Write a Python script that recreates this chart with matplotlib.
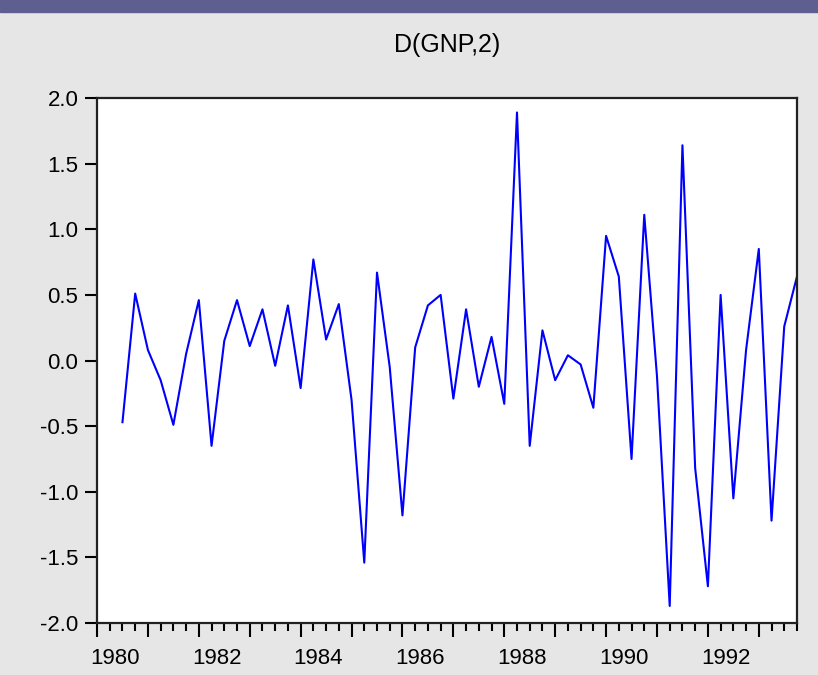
import matplotlib
matplotlib.use("Agg")
import matplotlib.pyplot as plt
import numpy as np

# Data: second difference of GNP, quarterly 1980Q3 - 1993Q4
start_year, start_q = 1980, 3
values = [-0.47, 0.51, 0.08, -0.15, -0.49, 0.05, 0.46, -0.65, 0.15, 0.46,
          0.11, 0.39, -0.04, 0.42, -0.21, 0.77, 0.16, 0.43, -0.30, -1.54,
          0.67, -0.05, -1.18, 0.10, 0.42, 0.50, -0.29, 0.39, -0.20, 0.18,
          -0.33, 1.89, -0.65, 0.23, -0.15, 0.04, -0.03, -0.36, 0.95, 0.64,
          -0.75, 1.11, -0.12, -1.87, 1.64, -0.82, -1.72, 0.50, -1.05, 0.08,
          0.85, -1.22, 0.26, 0.64]
year_labels = [1980, 1982, 1984, 1986, 1988, 1990, 1992]
y_ticks = [-2.0, -1.5, -1.0, -0.5, 0.0, 0.5, 1.0, 1.5, 2.0]

# quarter positions in fractional years (Q1 = .00, Q2 = .25, ...)
x = start_year + (start_q - 1) / 4 + np.arange(len(values)) / 4

plt.rcParams['font.family'] = ['Liberation Sans', 'DejaVu Sans']

fig = plt.figure(figsize=(8.18, 6.75), dpi=100, facecolor='#e6e6e6')
# purple window strip on top
fig.patches.append(plt.Rectangle((0, 0.982), 1, 0.018, transform=fig.transFigure,
                                 color='#5e5e90', zorder=0))

ax = fig.add_axes([0.1186, 0.077, 0.8557, 0.7778])
ax.set_facecolor('white')
ax.plot(x, values, color='#0000ff', lw=1.5)

ax.set_xlim(1980, 1993.75)
ax.set_ylim(-2.0, 2.0)

# x ticks: long at each year, short each quarter, labels every 2 years
ax.set_xticks(np.arange(1980, 1994), labels=[''] * 14)
ax.set_xticks(np.arange(1980, 1993.76, 0.25), minor=True)
ax.tick_params(axis='x', which='major', direction='out', length=10, width=1.5)
ax.tick_params(axis='x', which='minor', direction='out', length=6, width=1.5)
for yr in year_labels:
    ax.text(yr + 0.35, -0.068, str(yr), transform=ax.get_xaxis_transform(),
            ha='center', va='center', fontsize=16)

ax.set_yticks(y_ticks, labels=[f'{v:.1f}' for v in y_ticks])
ax.tick_params(axis='y', direction='out', length=8.5, width=1.5, pad=5, labelsize=16)

for s in ax.spines.values():
    s.set_color('#222222')
    s.set_linewidth(1.6)

fig.text(0.5465, 0.933, 'D(GNP,2)', ha='center', va='center', fontsize=18)

fig.savefig('out.png', dpi=100, facecolor=fig.get_facecolor())
